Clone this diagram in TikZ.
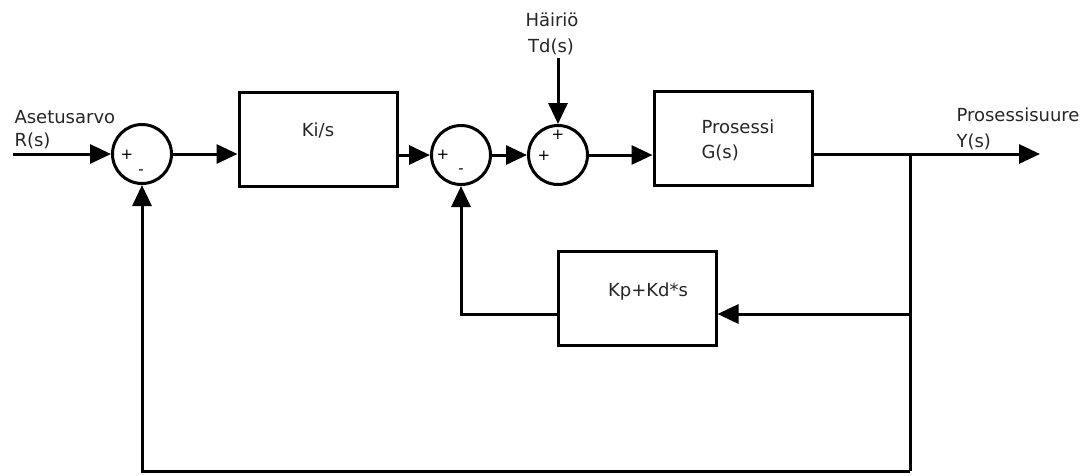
\documentclass[tikz,border=0pt]{standalone}
\usepackage{fontspec}
\setmainfont{DejaVu Sans}
\usetikzlibrary{arrows.meta}
\begin{document}
\begin{tikzpicture}[x=1pt,y=-1pt,
  line width=3pt,
  arr/.style={-{Triangle[length=21pt,width=19pt]}},
  blk/.style={draw, minimum width=158pt, minimum height=94pt, inner sep=0pt},
  sum/.style={draw, circle, minimum size=59pt, inner sep=0pt},
  txt/.style={font=\fontsize{18}{21}\selectfont, text=black!85, inner sep=0pt},
  sgn/.style={font=\fontsize{15}{17}\selectfont, inner sep=0pt}]
\useasboundingbox (0,0) rectangle (1092,475);
% blocks
\node[sum] (s1) at (142,154) {};
\node[blk] (ki) at (318,139) {};
\node[sum] (s2) at (461,155) {};
\node[sum] (s3) at (558,155) {};
\node[blk] (pr) at (733,138) {};
\node[blk] (kp) at (637,298) {};
% texts
\node[txt] (kit) at (318,130) {Ki/s};
\node[txt, anchor=west] (prt1) at (700,127) {Prosessi};
\node[txt, anchor=west] (prt2) at (700,153) {G(s)};
\node[txt] (kpt) at (648,292) {Kp+Kd*s};
\node[txt, anchor=west] (in1) at (13,117) {Asetusarvo};
\node[txt, anchor=west] (in2) at (13,141) {R(s)};
\node[txt, anchor=west] (out1) at (955,115) {Prosessisuure};
\node[txt, anchor=west] (out2) at (955,142) {Y(s)};
\node[txt] (d1) at (552,20) {Häiriö};
\node[txt] (d2) at (551,47) {Td(s)};
% signs
\node[sgn] (p1) at (127,155) {+};
\node[sgn] (m1) at (141,172) {-};
\node[sgn] (p2) at (443,155) {+};
\node[sgn] (m2) at (461,171) {-};
\node[sgn] (p3) at (544,156) {+};
\node[sgn] (p4) at (558,135) {+};
% coordinates
\coordinate (in) at (13,154);
\coordinate (dist) at (558,58);
\coordinate (br) at (910,154);
\coordinate (out) at (1040,154);
\coordinate (fb) at (910,314);
\coordinate (bb) at (910,471);
% connectors
\draw[arr] (in) -- (s1.west);
\draw[arr] (s1.east) -- (ki.west |- s1);
\draw[arr] (ki.east |- s2) -- (s2.west);
\draw[arr] (s2.east) -- (s3.west);
\draw[arr] (s3.east) -- (pr.west |- s3);
\draw[arr] (dist) -- (s3.north);
\draw[arr] (pr.east |- br) -- (out);
\draw (br) -- (bb);
\draw[arr] (fb) -- (kp.east |- fb);
\draw[arr] (kp.west |- fb) -| (s2.south);
\draw[arr] (bb) -| (s1.south);
\end{tikzpicture}
\end{document}
